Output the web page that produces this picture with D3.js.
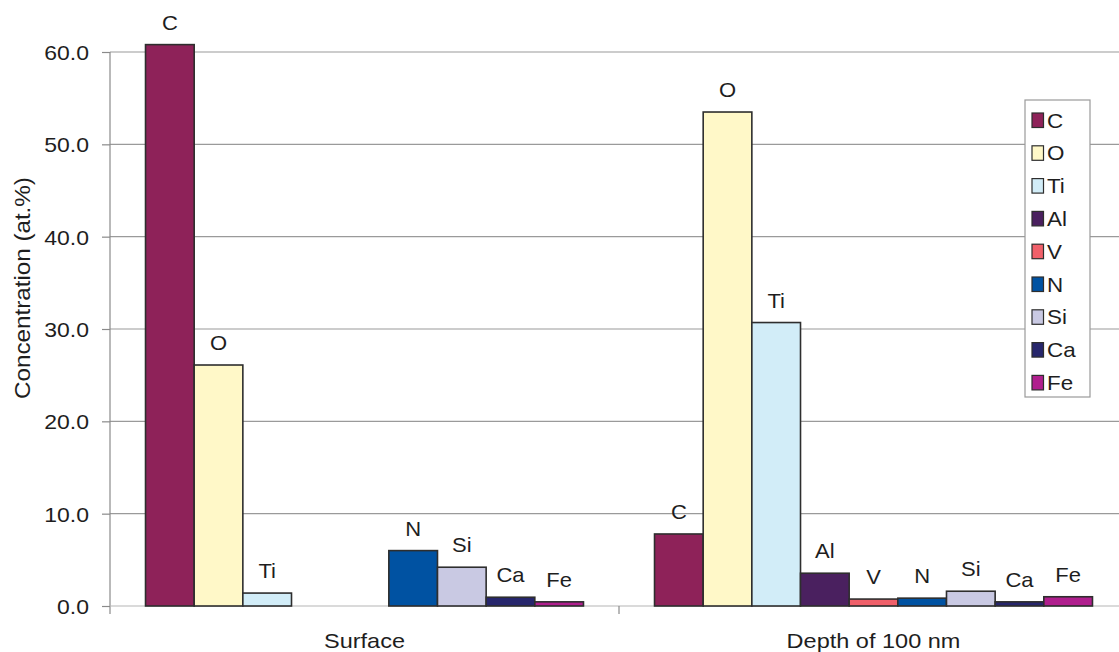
<!DOCTYPE html>
<html>
<head>
<meta charset="utf-8">
<script src="https://cdnjs.cloudflare.com/ajax/libs/d3/7.8.5/d3.min.js"></script>
<style>
  html, body { margin: 0; padding: 0; background: #fff; }
  svg { display: block; font-family: "Liberation Sans", Arial, sans-serif; }
</style>
</head>
<body>
<svg id="chart" width="1119" height="652"></svg>
<script>
// Sample locations (categories along the x axis)
const categories = ["Surface", "Depth of 100 nm"];
// Elements (one bar series each)
const elements = ["C", "O", "Ti", "Al", "V", "N", "Si", "Ca", "Fe"];
// Concentration in at.% for each element, per location
const surfaceValues = [60.8, 26.1, 1.4, 0, 0, 6.0, 4.2, 0.95, 0.45];
const depthValues = [7.8, 53.5, 30.7, 3.55, 0.75, 0.85, 1.6, 0.45, 1.0];
// Y axis ticks
const yTicks = [0, 10, 20, 30, 40, 50, 60];
const yTitle = "Concentration (at.%)";

const colors = ["#8e2259", "#fff8c8", "#d2edf8", "#4a205f", "#f0606a",
                "#0052a2", "#c9c9e3", "#27266c", "#b01f8e"];

const valuesByCategory = [surfaceValues, depthValues];

const svg = d3.select("#chart");
const plotLeft = 110, plotRight = 1128, plotTop = 52, plotBottom = 606;

const y = d3.scaleLinear().domain([0, 60]).range([plotBottom, plotTop]);
const x0 = d3.scaleBand().domain(categories).range([plotLeft, plotRight]).paddingInner(0).paddingOuter(0);
const x1 = d3.scaleBand().domain(elements).range([0, x0.bandwidth()])
  .paddingInner(0).paddingOuter(0.73);
const color = d3.scaleOrdinal().domain(elements).range(colors);

// Horizontally widened text, anchored at (x, y)
function wideText(parent, x, yy, str, size, sx, anchor, rot) {
  return parent.append("text")
    .attr("transform", `translate(${x},${yy})` + (rot ? ` rotate(${rot})` : "") + ` scale(${sx},1)`)
    .attr("text-anchor", anchor || "middle")
    .attr("font-size", size)
    .attr("fill", "#1e1e1e")
    .text(str);
}

// Gridlines
svg.append("g").selectAll("line").data(yTicks.filter(d => d > 0)).join("line")
  .attr("x1", plotLeft).attr("x2", plotRight)
  .attr("y1", d => y(d)).attr("y2", d => y(d))
  .attr("stroke", "#9a9a9a").attr("stroke-width", 1.2);

// Y axis
const yAxis = svg.append("g").attr("transform", `translate(${plotLeft},0)`)
  .call(d3.axisLeft(y).tickValues(yTicks).tickFormat(d3.format(".1f")).tickSize(8).tickSizeOuter(0));
yAxis.select(".domain").attr("stroke", "#8a8a8a").attr("stroke-width", 1.2)
  .attr("d", `M0,${plotTop}V${plotBottom + 8}`);
yAxis.selectAll(".tick line").attr("stroke", "#8a8a8a").attr("stroke-width", 1.2);
yAxis.selectAll(".tick text")
  .attr("font-size", 20).attr("font-family", "Liberation Sans, Arial, sans-serif")
  .attr("fill", "#1e1e1e")
  .attr("transform", "scale(1.15,1)")
  .attr("x", -21 / 1.15).attr("dy", null).attr("y", 7.5);

// X axis baseline and category boundary ticks
svg.append("line").attr("x1", plotLeft).attr("x2", plotRight)
  .attr("y1", y(0)).attr("y2", y(0))
  .attr("stroke", "#b5b5b5").attr("stroke-width", 1.2);
const boundaries = categories.map(c => x0(c)).concat([x0(categories[categories.length - 1]) + x0.bandwidth()]);
svg.append("g").selectAll("line").data(boundaries.slice(1)).join("line")
  .attr("x1", d => d).attr("x2", d => d)
  .attr("y1", y(0)).attr("y2", y(0) + 8)
  .attr("stroke", "#8a8a8a").attr("stroke-width", 1.2);

// Bars and their element labels
categories.forEach((cat, ci) => {
  const g = svg.append("g").attr("transform", `translate(${x0(cat)},0)`);
  const data = elements.map((e, i) => ({ e, v: valuesByCategory[ci][i] })).filter(d => d.v > 0);
  g.selectAll("rect").data(data).join("rect")
    .attr("x", d => x1(d.e)).attr("width", x1.bandwidth())
    .attr("y", d => y(d.v)).attr("height", d => y(0) - y(d.v))
    .attr("fill", d => color(d.e))
    .attr("stroke", "#2e2e2e").attr("stroke-width", 1.6);
  data.forEach(d => {
    wideText(g, x1(d.e) + x1.bandwidth() / 2, y(d.v) - 15, d.e, 20, 1.1, "middle");
  });
  // Category label
  wideText(svg, x0(cat) + x0.bandwidth() / 2, 648, cat, 21, 1.12, "middle");
});

// Y axis title
wideText(svg, 30, 288, yTitle, 22, 1.1, "middle", -90);

// Legend
const legend = svg.append("g");
legend.append("rect").attr("x", 1025).attr("y", 100).attr("width", 65).attr("height", 297)
  .attr("fill", "#fff").attr("stroke", "#9a9a9a").attr("stroke-width", 1.2);
elements.forEach((e, i) => {
  const cy = 120 + i * 32.8;
  legend.append("rect").attr("x", 1032).attr("y", cy - 7).attr("width", 11.5).attr("height", 14.5)
    .attr("fill", color(e)).attr("stroke", "#2e2e2e").attr("stroke-width", 1.2);
  wideText(legend, 1047, cy + 7.5, e, 20, 1.12, "start");
});
</script>
</body>
</html>
